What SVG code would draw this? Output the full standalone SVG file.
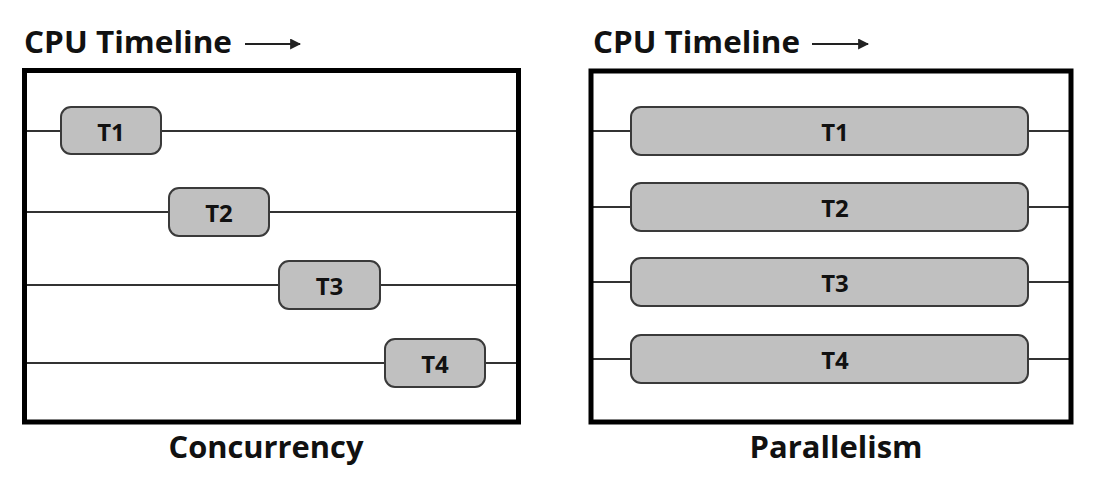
<svg xmlns="http://www.w3.org/2000/svg" width="1098" height="484" viewBox="0 0 1098 484">
<style>
.frame{fill:none;stroke:#000;stroke-width:5}
.line{stroke:#333;stroke-width:2}
.task{fill:#c0c0c0;stroke:#3a3a3a;stroke-width:2}
.tl{font-family:"Open Sans","Noto Sans",sans-serif;font-weight:bold;font-size:24px;fill:#111;text-anchor:middle;dominant-baseline:central}
.title{font-family:"Open Sans","Noto Sans",sans-serif;font-weight:bold;font-size:30px;fill:#111}
.cap{font-family:"Open Sans","Noto Sans",sans-serif;font-weight:bold;font-size:30px;fill:#111;text-anchor:middle}
.arr{stroke:#222;stroke-width:2;fill:none}
</style>
<defs>
<marker id="ah" viewBox="0 0 10 10" refX="9" refY="5" markerWidth="11" markerHeight="11" markerUnits="userSpaceOnUse" orient="auto">
<path d="M0,0 L10,5 L0,10 z" fill="#222"/>
</marker>
</defs>
<rect width="1098" height="484" fill="#fff"/>
<g id="labels">
<text class="title" x="24" y="53" textLength="208" lengthAdjust="spacingAndGlyphs">CPU Timeline</text>
<text class="title" x="593" y="53" textLength="207" lengthAdjust="spacingAndGlyphs">CPU Timeline</text>
<line class="arr" x1="245" y1="44" x2="300" y2="44" marker-end="url(#ah)"/>
<line class="arr" x1="812" y1="44" x2="868" y2="44" marker-end="url(#ah)"/>
<text class="cap" x="266" y="458" textLength="195" lengthAdjust="spacingAndGlyphs">Concurrency</text>
<text class="cap" x="836" y="458" textLength="173" lengthAdjust="spacingAndGlyphs">Parallelism</text>
</g>
<g id="connectors">
<line class="line" x1="25" y1="131" x2="518" y2="131"/>
<line class="line" x1="25" y1="212" x2="518" y2="212"/>
<line class="line" x1="25" y1="285" x2="518" y2="285"/>
<line class="line" x1="25" y1="363" x2="518" y2="363"/>
<line class="line" x1="592" y1="131" x2="1070" y2="131"/>
<line class="line" x1="592" y1="207" x2="1070" y2="207"/>
<line class="line" x1="592" y1="282" x2="1070" y2="282"/>
<line class="line" x1="592" y1="359" x2="1070" y2="359"/>
</g>
<g id="concurrency-frame"><rect class="frame" x="24.5" y="70.5" width="494" height="351.5"/></g>
<g id="parallelism-frame"><rect class="frame" x="591" y="71" width="480" height="351"/></g>
<g id="c-t1"><rect class="task" x="61" y="107" width="100" height="47" rx="10"/><text class="tl" x="111" y="131">T1</text></g>
<g id="c-t2"><rect class="task" x="169" y="188" width="100" height="48" rx="10"/><text class="tl" x="219" y="212">T2</text></g>
<g id="c-t3"><rect class="task" x="279" y="261" width="101" height="48" rx="10"/><text class="tl" x="329.500" y="285">T3</text></g>
<g id="c-t4"><rect class="task" x="385" y="339" width="100" height="48" rx="10"/><text class="tl" x="435" y="363">T4</text></g>
<g id="p-t1"><rect class="task" x="631" y="107" width="397" height="48" rx="10"/><text class="tl" x="835" y="131">T1</text></g>
<g id="p-t2"><rect class="task" x="631" y="183" width="397" height="48" rx="10"/><text class="tl" x="835" y="207">T2</text></g>
<g id="p-t3"><rect class="task" x="631" y="258" width="397" height="48" rx="10"/><text class="tl" x="835" y="282">T3</text></g>
<g id="p-t4"><rect class="task" x="631" y="335" width="397" height="48" rx="10"/><text class="tl" x="835" y="359">T4</text></g>
</svg>
